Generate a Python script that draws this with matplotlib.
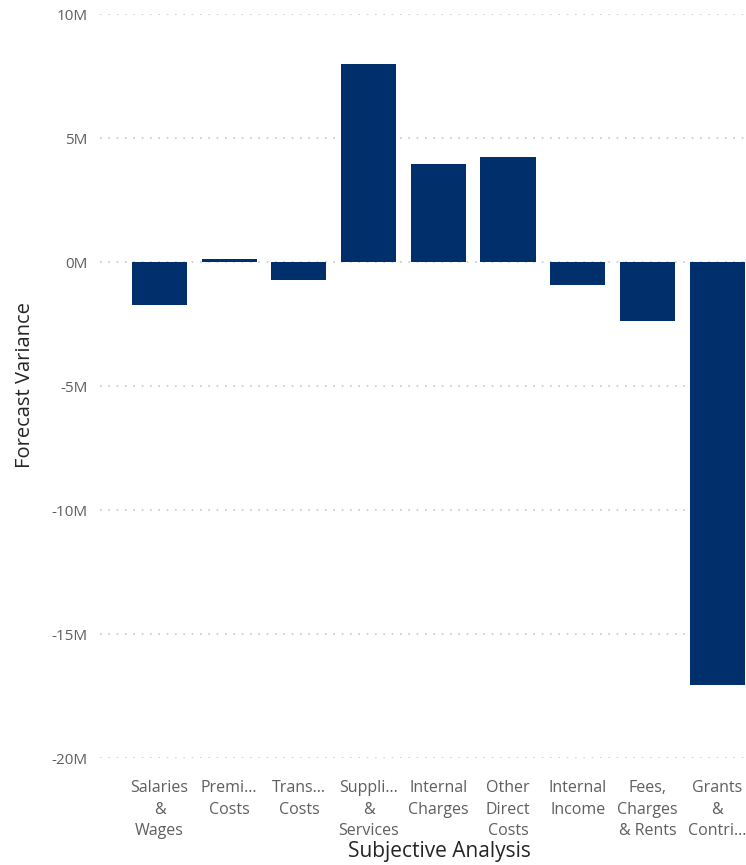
import matplotlib
matplotlib.use("Agg")
import matplotlib.pyplot as plt
from matplotlib.ticker import FuncFormatter

# données (en millions)
categories = ["Salaries\n&\nWages", "Premi...\nCosts", "Trans...\nCosts",
              "Suppli...\n&\nServices", "Internal\nCharges", "Other\nDirect\nCosts",
              "Internal\nIncome", "Fees,\nCharges\n& Rents", "Grants\n&\nContri..."]
variance_m = [-1.75, 0.11, -0.74, 8.0, 3.97, 4.25, -0.93, -2.39, -17.05]
y_ticks = [10, 5, 0, -5, -10, -15, -20]

plt.rcParams['font.family'] = ['Open Sans', 'DejaVu Sans']

fig = plt.figure(figsize=(7.46, 8.65), dpi=100)
ax = fig.add_axes([100/746, 1 - 758/865, 646/746, (758 - 14)/865])

x = list(range(len(categories)))
ax.bar(x, variance_m, width=0.79, color='#002F6C', zorder=3)

ax.set_xlim(-0.854, 8.415)
ax.set_ylim(-20, 10)
ax.set_yticks(y_ticks)
ax.yaxis.set_major_formatter(FuncFormatter(lambda v, p: f"{int(v)}M"))
ax.grid(axis='y', linestyle=(0, (1, 4)), color='#C8C8C8', linewidth=1.2, zorder=0)

ax.set_xticks(x)
ax.set_xticklabels(categories, fontsize=11.5, color='#605E5C', linespacing=1.45, va='top')
ax.tick_params(axis='both', length=0)
ax.tick_params(axis='x', pad=16)
ax.tick_params(axis='y', labelsize=11, labelcolor='#605E5C', pad=9)

for s in ax.spines.values():
    s.set_visible(False)

fig.text(25/746, 1 - 385/865, "Forecast Variance", rotation=90, ha='center', va='center',
         fontsize=14.5, color='#252423')
fig.text(439/746, 1 - 851/865, "Subjective Analysis", ha='center', va='center',
         fontsize=15, color='#252423', weight='medium')

fig.savefig("out.png", dpi=100)
